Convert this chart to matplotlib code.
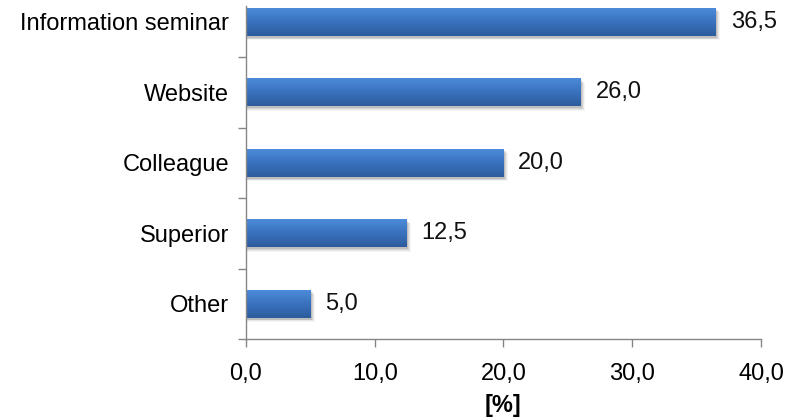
import matplotlib
matplotlib.use("Agg")
import matplotlib.pyplot as plt
import numpy as np
from matplotlib.patches import Rectangle
from matplotlib.colors import LinearSegmentedColormap

categories = ["Information seminar", "Website", "Colleague", "Superior", "Other"]
values = [36.5, 26.0, 20.0, 12.5, 5.0]
x_ticks = [0, 10, 20, 30, 40]
x_tick_labels = ["0,0", "10,0", "20,0", "30,0", "40,0"]
x_label = "[%]"

plt.rcParams["font.family"] = ["Liberation Sans", "DejaVu Sans"]
FS = 17

fig = plt.figure(figsize=(7.95, 4.2), dpi=100)
ax = fig.add_axes([0.3094, 0.1929, 0.6478, 0.793])

n = len(categories)
pos = np.arange(n)[::-1]  # first category at the top
bar_h = 0.40

grad = LinearSegmentedColormap.from_list("bar", ["#4d8ddb", "#3a72bf", "#2c5c9c"])
grad_img = np.linspace(0, 1, 64).reshape(-1, 1)

for y, v in zip(pos, values):
    # soft drop shadow
    for k, a in enumerate([0.10, 0.08, 0.06, 0.04]):
        off = 0.025 + 0.012 * k
        ax.add_patch(Rectangle((0, y - bar_h / 2 - off), v + 0.10 + 0.08 * k, bar_h,
                               facecolor="#000000", alpha=a, edgecolor="none", zorder=1))
    bar = ax.barh(y, v, height=bar_h, color="none", edgecolor="none", zorder=2)[0]
    im = ax.imshow(grad_img, cmap=grad, aspect="auto",
                   extent=(0, v, y - bar_h / 2, y + bar_h / 2), origin="upper", zorder=2)
    im.set_clip_path(bar)
    ax.text(v + 1.15, y, f"{v:.1f}".replace(".", ","), va="center", ha="left",
            fontsize=FS, color="#111111", zorder=3)

ax.set_xlim(0, 40)
ax.set_ylim(-0.5, 4.227)

ax.set_xticks(x_ticks)
ax.set_xticklabels(x_tick_labels, fontsize=FS)
ax.set_yticks(pos)
ax.set_yticklabels(categories, fontsize=FS)
ax.tick_params(axis="y", length=0, pad=12)
ax.set_yticks(np.arange(-0.5, n - 0.5, 1.0), minor=True)
ax.tick_params(axis="y", which="minor", length=6, color="#868686", width=1)
ax.tick_params(axis="x", length=6, color="#868686", width=1, pad=11)

for s in ["top", "right"]:
    ax.spines[s].set_visible(False)
for s in ["left", "bottom"]:
    ax.spines[s].set_color("#868686")
    ax.spines[s].set_linewidth(1)

ax.set_xlabel(x_label, fontsize=FS, fontweight="bold", labelpad=7)

fig.savefig("out.png", dpi=100)
